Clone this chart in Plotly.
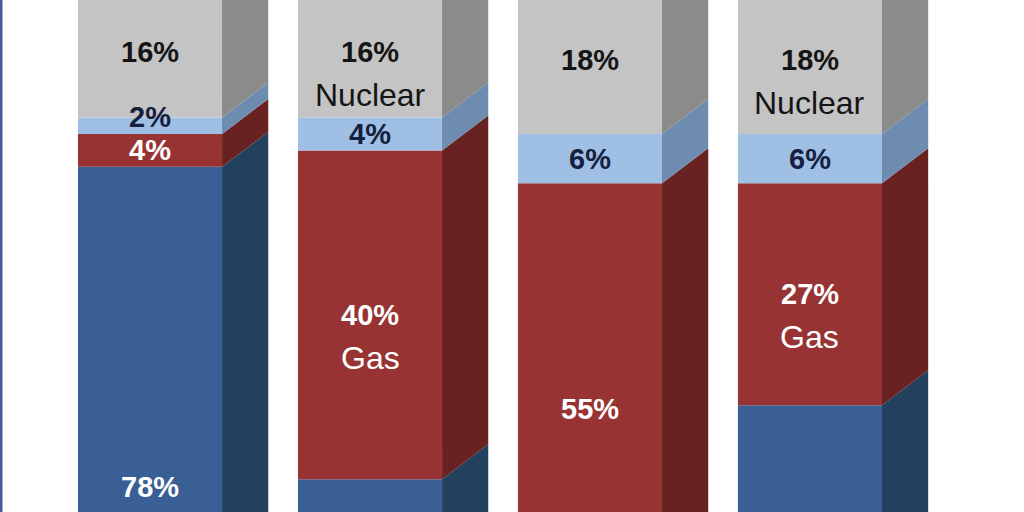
import plotly.graph_objects as go

# ---- data ----
bars = ["Bar 1", "Bar 2", "Bar 3", "Bar 4"]
coal = [78, 40, 21, 49]
gas = [4, 40, 55, 27]
other = [2, 4, 6, 6]
nuclear = [16, 16, 18, 18]
gas_names = ["", "Gas", "", "Gas"]
nuclear_names = ["", "Nuclear", "", "Nuclear"]

series = [
    ("Coal", coal, "#3a5f94", "#24405f", "white", None),
    ("Gas", gas, "#973433", "#682221", "white", gas_names),
    ("Other", other, "#9fbfe4", "#6d8cb0", "#15203f", None),
    ("Nuclear", nuclear, "#c4c4c4", "#8b8b8b", "#151515", nuclear_names),
]

# ---- geometry / style ----
xpos = list(range(len(bars)))
bar_w = 0.655
depth_x = 0.21
depth_y = 4.25
font_pct = dict(family="Liberation Sans, Arial, sans-serif", size=29)
font_name = dict(family="Liberation Sans, Arial, sans-serif", size=32)

fig = go.Figure()
shapes = []
annotations = []

base = [0.0] * len(bars)
for name, vals, front, side, tcol, names in series:
    fig.add_trace(go.Bar(
        x=xpos, y=vals, base=base, width=bar_w, name=name,
        marker=dict(color=front, line=dict(width=0)), showlegend=False,
        hoverinfo="skip",
    ))
    for i, (x, v) in enumerate(zip(xpos, vals)):
        y0 = base[i]
        y1 = y0 + v
        xr = x + bar_w / 2
        path = (f"M {xr} {y0} L {xr + depth_x} {y0 + depth_y} "
                f"L {xr + depth_x} {y1 + depth_y} L {xr} {y1} Z")
        shapes.append(dict(type="path", path=path, xref="x", yref="y",
                           fillcolor=side, line=dict(width=0), layer="above"))
        yc = (y0 + y1) / 2
        annotations.append(dict(
            x=x, y=yc, xref="x", yref="y", text=f"<b>{v}%</b>",
            showarrow=False, font=dict(color=tcol, **font_pct),
            yshift=9 if v < 3 else 0,
        ))
        if names and names[i]:
            annotations.append(dict(
                x=x, y=yc, xref="x", yref="y", text=names[i], yshift=-43,
                showarrow=False, font=dict(color=tcol, **font_name),
            ))
    base = [b + v for b, v in zip(base, vals)]

# top faces of the boxes
for i, x in enumerate(xpos):
    top = base[i]
    xl = x - bar_w / 2
    xr = x + bar_w / 2
    path = (f"M {xl} {top} L {xl + depth_x} {top + depth_y} "
            f"L {xr + depth_x} {top + depth_y} L {xr} {top} Z")
    shapes.append(dict(type="path", path=path, xref="x", yref="y",
                       fillcolor="#d8d8d8", line=dict(width=0), layer="above"))

# left frame line
shapes.append(dict(type="line", xref="paper", yref="paper", x0=0.001, x1=0.001,
                   y0=0, y1=1, line=dict(color="#4a5c9e", width=3)))

fig.update_layout(
    width=1024, height=512,
    margin=dict(l=0, r=0, t=0, b=0),
    paper_bgcolor="white", plot_bgcolor="white",
    barmode="overlay",
    xaxis=dict(range=[-0.682, 3.973], visible=False, fixedrange=True),
    yaxis=dict(range=[36.0, 98.3], visible=False, fixedrange=True),
    shapes=shapes, annotations=annotations,
)

fig.write_html("out.html", config={"displayModeBar": False},
               post_script="document.body.style.margin='0';document.body.style.overflow='hidden';")
